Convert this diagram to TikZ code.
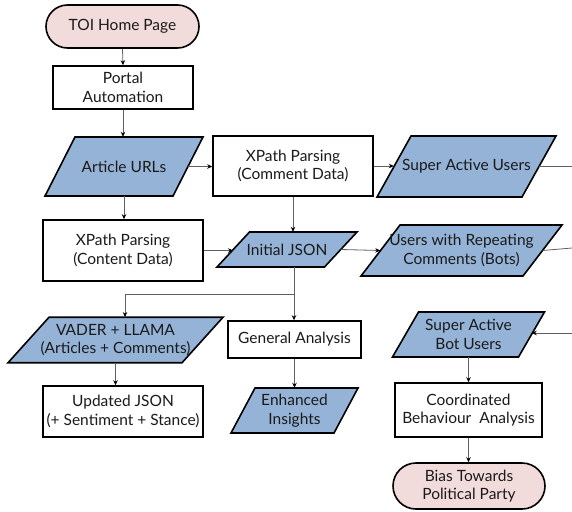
\documentclass[tikz,border=0pt]{standalone}
\usepackage{fontspec}
\setmainfont{Lato}
\usetikzlibrary{arrows.meta,calc}
\definecolor{pinkfill}{HTML}{F2DCDB}
\definecolor{bluefill}{HTML}{95B3D7}
\definecolor{linegray}{HTML}{606060}
\definecolor{txt}{HTML}{1A1A1A}
\tikzset{
  base/.style={font=\fontsize{15.5}{18.5}\selectfont, text=txt, align=center, inner sep=0pt},
  rectbox/.style={base, draw=black, line width=1.6pt, fill=white},
  stadium/.style={base, draw=black, line width=1.6pt, fill=pinkfill},
  paratext/.style={base},
  parashape/.style={draw=black, line width=1.6pt, fill=bluefill, line join=miter},
  conn/.style={draw=linegray, line width=0.8pt, -{Stealth[length=5pt,width=4.5pt,black]}},
  plain/.style={draw=linegray, line width=0.8pt},
}
% \para{name}{cx}{cy}{width}{height}{skew}{text}
\newcommand{\para}[7]{%
  \path[parashape] ({#2-#4/2+#6/2},{#3-#5/2}) -- ({#2+#4/2+#6/2},{#3-#5/2})
     -- ({#2+#4/2-#6/2},{#3+#5/2}) -- ({#2-#4/2-#6/2},{#3+#5/2}) -- cycle;
  \node[paratext, minimum width=#4, minimum height=#5] (#1) at (#2,#3) {#7};
}
\begin{document}
\begin{tikzpicture}[x=1pt,y=-1pt]
\useasboundingbox (0,0) rectangle (572,511);

% terminals
\node[stadium, minimum width=153, minimum height=43, rounded corners=21.5pt] (toi) at (122.5,26.5) {TOI Home Page};
\node[stadium, minimum width=152, minimum height=46, rounded corners=23pt] (bias) at (469,486) {Bias Towards\\Political Party};

% process boxes
\node[rectbox, minimum width=140, minimum height=43] (portal) at (123,87.5) {Portal\\Automation};
\node[rectbox, minimum width=160, minimum height=60] (xc) at (293,166) {XPath Parsing\\(Comment Data)};
\node[rectbox, minimum width=160, minimum height=61] (xcont) at (123,250.5) {XPath Parsing\\(Content Data)};
\node[rectbox, minimum width=133, minimum height=37] (ga) at (294.5,339.5) {General Analysis};
\node[rectbox, minimum width=160, minimum height=51] (uj) at (123,411.5) {Updated JSON\\(+ Sentiment + Stance)};
\node[rectbox, minimum width=147, minimum height=54] (cba) at (468.5,410) {Coordinated\\Behaviour\ \ Analysis};

% data (parallelograms)
\para{art}{124}{166.5}{128}{59}{30}{Article URLs}
\para{sau}{466.5}{166.5}{145}{61}{34}{Super Active Users}
\para{ij}{287}{249.5}{107.5}{35}{32.5}{Initial JSON}
\para{urc}{461.5}{250.5}{162}{51}{39}{Users with Repeating\\Comments (Bots)}
\para{vader}{115.5}{340}{174}{45.5}{41}{VADER + LLAMA\\(Articles + Comments)}
\para{ei}{294.5}{410.5}{103}{45}{24}{Enhanced\\Insights}
\para{sab}{468.5}{334.5}{126}{45}{26}{Super Active\\Bot Users}

% free ends at the right edge
\coordinate (sauR) at (572,166.5);
\coordinate (urcR) at (572,248);
\coordinate (sabR) at (572,333);
\coordinate (br) at (294,294);

% connectors
\draw[conn] (toi.south) -- (portal.north);
\draw[conn] (portal.south) -- (portal.south |- art.north);
\draw[conn] (art.east) -- (art.east -| xc.west);
\draw[conn] (art.south) -- (art.south |- xcont.north);
\draw[conn] (xc.east) -- (xc.east -| sau.west);
\draw[conn] (xc.south) -- (xc.south |- ij.north);
\draw[conn] (xcont.east) -- (xcont.east -| ij.west);
\draw[conn] (ij.east) -- (urc.west);
\draw[conn] (br |- ij.south) -- (br |- ga.north);
\draw[conn] (br) -| ([xshift=9.5pt]vader.north);
\draw[conn] (vader.south) -- (vader.south |- uj.north);
\draw[conn] (ga.south) -- (ga.south |- ei.north);
\draw[plain] (sau.east) -- (sauR);
\draw[plain] (urc.east) -- (urcR);
\draw[conn] (sabR) -- (sabR -| sab.east);
\draw[conn] (sab.south) -- (sab.south |- cba.north);
\draw[conn] (cba.south) -- (cba.south |- bias.north);
\end{tikzpicture}
\end{document}
